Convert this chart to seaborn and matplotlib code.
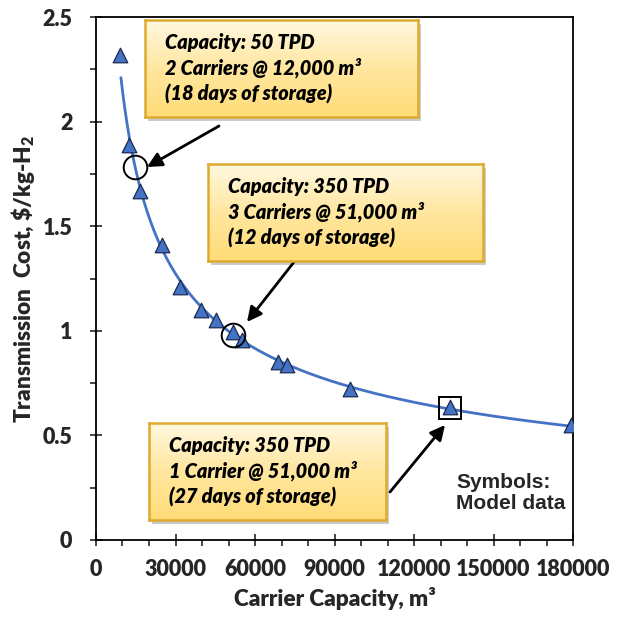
import numpy as np
import matplotlib
matplotlib.use("Agg")
import matplotlib.pyplot as plt
from matplotlib.colors import LinearSegmentedColormap
from matplotlib.patches import Rectangle
import seaborn as sns

# Model data
capacity_m3 = [9100, 12500, 16600, 25000, 31800, 39700, 45400, 51800, 55200,
               68500, 72200, 95700, 133500, 179300]
cost_per_kg = [2.32, 1.89, 1.67, 1.41, 1.21, 1.10, 1.05, 0.995, 0.957,
               0.85, 0.837, 0.72, 0.636, 0.55]

# Highlighted cases
circle_x = [14800, 51800]
circle_y = [1.785, 0.98]
square_x = [133500]
square_y = [0.63]

x_ticks = [0, 30000, 60000, 90000, 120000, 150000, 180000]
x_labels = ["0", "30000", "60000", "90000", "120000", "150000", "180000"]
y_ticks = [0, 0.5, 1, 1.5, 2, 2.5]
y_labels = ["0", "0.5", "1", "1.5", "2", "2.5"]

box_texts = [
    "Capacity: 50 TPD\n2 Carriers @ 12,000 m³\n(18 days of storage)",
    "Capacity: 350 TPD\n3 Carriers @ 51,000 m³\n(12 days of storage)",
    "Capacity: 350 TPD\n1 Carrier @ 51,000 m³\n(27 days of storage)",
]

sns.set_style("ticks")
plt.rcParams["font.family"] = ["Lato", "DejaVu Sans"]
plt.rcParams["mathtext.default"] = "regular"

W = H = 625
fig = plt.figure(figsize=(6.25, 6.25), dpi=100)
ax = fig.add_axes([96 / W, 85 / H, 477 / W, 523 / H])

# power-law trend line fitted to the model data
b, log_a = np.polyfit(np.log(capacity_m3), np.log(cost_per_kg), 1)
fit_x = np.geomspace(9400, 180000, 200)
fit_y = np.exp(log_a) * fit_x ** b
sns.lineplot(x=fit_x, y=fit_y, ax=ax, color="#4472C4", lw=2, zorder=2)

sns.scatterplot(x=capacity_m3, y=cost_per_kg, ax=ax, marker="^", s=110,
                color="#4472C4", edgecolor="#1B2A4E", linewidth=0.9, zorder=3)

ax.plot(circle_x, circle_y, "o", ms=17, mfc="none", mec="black", mew=1.4, zorder=4)
ax.plot(square_x, square_y, "s", ms=16.5, mfc="none", mec="black", mew=1.4, zorder=4)

ax.set_xlim(0, 180000)
ax.set_ylim(0, 2.5)
ax.set_xticks(x_ticks)
ax.set_xticklabels(x_labels)
ax.set_xticks(np.arange(0, 180001, 10000), minor=True)
ax.set_yticks(y_ticks)
ax.set_yticklabels(y_labels)
ax.set_yticks(np.arange(0, 2.51, 0.25), minor=True)

for sp in ax.spines.values():
    sp.set_visible(True)
    sp.set_color("black")
    sp.set_linewidth(1.3)

ax.tick_params(axis="x", which="major", direction="inout", length=9, width=1.2,
               pad=9, labelsize=15.5)
ax.tick_params(axis="x", which="minor", direction="out", length=4, width=1.2)
ax.tick_params(axis="y", which="major", direction="inout", length=9, width=1.2,
               pad=12.5, labelsize=15.5)
ax.tick_params(axis="y", which="minor", direction="out", length=4.5, width=1.2)
for lab in ax.get_xticklabels() + ax.get_yticklabels():
    lab.set_fontweight("heavy")

ax.set_xlabel("Carrier Capacity, m³", fontsize=16.3, fontweight="heavy", labelpad=5)
ax.set_ylabel("Transmission  Cost, \\$/kg-H$_{2}$", fontsize=16.3,
              fontweight="heavy", labelpad=4)

# annotation boxes (left, top, right, bottom in pixels from top-left)
boxes = [(145, 20, 418, 117), (208, 164, 483, 261), (149, 423, 386, 520)]
grad = LinearSegmentedColormap.from_list("gold", ["#FFF8E0", "#FFE7A0", "#FFDC78"])
for (l, t, r, btm), txt in zip(boxes, box_texts):
    fig.patches.append(Rectangle(((l + 3) / W, (H - btm - 4) / H), (r - l) / W,
                                 (btm - t) / H, transform=fig.transFigure,
                                 color="black", alpha=0.2, zorder=2, lw=0))
    bax = fig.add_axes([l / W, (H - btm) / H, (r - l) / W, (btm - t) / H], zorder=3)
    bax.imshow(np.linspace(0, 1, 100).reshape(-1, 1), aspect="auto", cmap=grad,
               extent=[0, 1, 0, 1], origin="upper")
    bax.set_xticks([])
    bax.set_yticks([])
    for sp in bax.spines.values():
        sp.set_color("#DDAA2E")
        sp.set_linewidth(1.8)
    bax.text(20 / (r - l), 0.5, txt, transform=bax.transAxes, ha="left",
             va="center", fontsize=14.3, fontweight="heavy", fontstyle="italic",
             linespacing=1.32, color="black")

# arrows (tail -> tip, pixels from top-left)
arrows = [((219, 126), (147, 167)), ((294, 262), (247, 322)), ((390, 492), (445, 425))]
for (tx, ty), (hx, hy) in arrows:
    ax.annotate("", xy=(hx, H - hy), xytext=(tx, H - ty), xycoords="figure pixels",
                textcoords="figure pixels",
                arrowprops=dict(arrowstyle="-|>", color="black", lw=2,
                                mutation_scale=22, shrinkA=0, shrinkB=0))

fig.text(456 / W, (H - 473) / H, "Symbols:\nModel data", ha="left", va="top",
         family="Liberation Sans", fontweight="bold", fontsize=15, linespacing=1.15)

fig.savefig("out.png", dpi=100)
